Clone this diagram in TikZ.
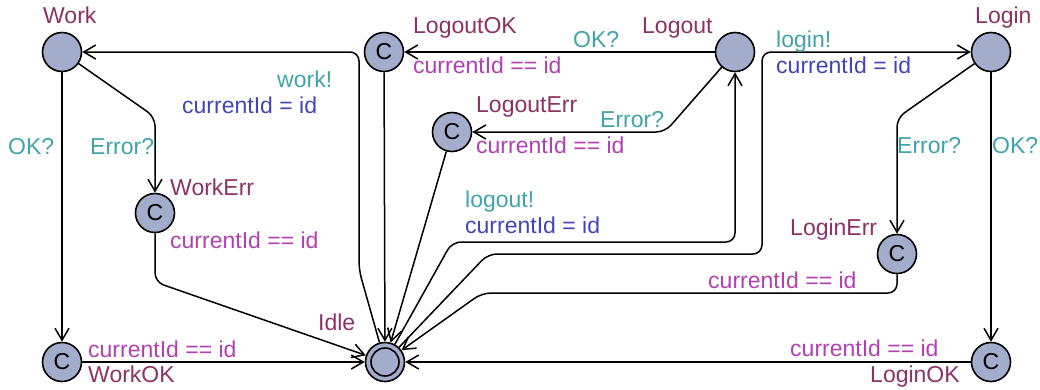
\documentclass[tikz,border=0pt]{standalone}
\usepackage{fontspec}
\setmainfont{Liberation Sans}
\usetikzlibrary{arrows.meta}
\definecolor{locname}{RGB}{140,50,100}
\definecolor{synccol}{RGB}{64,164,170}
\definecolor{updcol}{RGB}{68,68,180}
\definecolor{guardcol}{RGB}{178,64,178}
\definecolor{locfill}{RGB}{164,172,204}
\begin{document}
\begin{tikzpicture}[x=1pt,y=-1pt,
  loc/.style={circle, draw=black, line width=1.6pt, fill=locfill, minimum size=39pt, inner sep=0pt, font=\fontsize{23}{27}\selectfont},
  tr/.style={draw, line width=1.5pt, -{Straight Barb[length=12pt,width=14pt,line width=1.5pt]}, rounded corners=9pt},
  lbl/.style={inner sep=0pt, anchor=base west, font=\fontsize{23}{27}\selectfont},
  nm/.style={lbl, text=locname},
  sy/.style={lbl, text=synccol},
  up/.style={lbl, text=updcol},
  gd/.style={lbl, text=guardcol}]
\useasboundingbox (0,0) rectangle (1040,389);
% locations
\node[loc] (Work) at (62,52) {};
\node[loc] (LogoutOK) at (384,52) {C};
\node[loc] (Logout) at (735,52) {};
\node[loc] (Login) at (991,52) {};
\node[loc] (LogoutErr) at (452,132) {C};
\node[loc] (WorkErr) at (155,213) {C};
\node[loc] (LoginErr) at (897,254) {C};
\node[loc] (WorkOK) at (62,362) {C};
\node[loc] (Idle) at (385,362) {};
\node[loc] (LoginOK) at (991,362) {C};
\draw[line width=1.6pt] (Idle.center) circle (14pt);
% location names
\node[nm] (tWork) at (43,23) {Work};
\node[nm] (tLogoutOK) at (413,33) {LogoutOK};
\node[nm] (tLogout) at (642,33) {Logout};
\node[nm] (tLogin) at (975,23) {Login};
\node[nm] (tLogoutErr) at (476,112) {LogoutErr};
\node[nm] (tWorkErr) at (170,195) {WorkErr};
\node[nm] (tLoginErr) at (790,235) {LoginErr};
\node[nm] (tIdle) at (318,330) {Idle};
\node[nm] (tWorkOK) at (88,382) {WorkOK};
\node[nm] (tLoginOK) at (870,382) {LoginOK};
% transitions
\draw[tr] (Idle) -- (359,270) -- (359,52) -- (Work);
\draw[tr] (Idle) -- (452,242) -- (735,242) -- (Logout);
\draw[tr] (Idle) -- (488,254) -- (762,254) -- (762,52) -- (Login);
\draw[tr] (LoginErr) -- (897,293) -- (482,293) -- (Idle);
\draw[tr] (WorkErr) -- (155,282) -- (Idle);
\draw[tr] (Work) -- (155,117) -- (WorkErr);
\draw[tr] (Login) -- (897,118) -- (LoginErr);
\draw[tr] (Logout) -- (665,132) -- (LogoutErr);
\draw[tr] (LogoutErr) -- (Idle);
\draw[tr] (LogoutOK) -- (Idle);
\draw[tr] (Logout) -- (LogoutOK);
\draw[tr] (Work) -- (WorkOK);
\draw[tr] (WorkOK) -- (Idle);
\draw[tr] (LoginOK) -- (Idle);
\draw[tr] (Login) -- (LoginOK);
% labels
\node[sy] (sWork) at (277,87) {work!};
\node[up] (uWork) at (182,113) {currentId = id};
\node[sy] (sWorkOK) at (8,154) {OK?};
\node[sy] (sWorkErr) at (90,154) {Error?};
\node[gd] (gWorkErr) at (170,248) {currentId == id};
\node[gd] (gWorkOK) at (88,357) {currentId == id};
\node[sy] (sLogoutOK) at (573,47) {OK?};
\node[gd] (gLogoutOK) at (413,73) {currentId == id};
\node[sy] (sLogoutErr) at (600,127) {Error?};
\node[gd] (gLogoutErr) at (476,153) {currentId == id};
\node[sy] (sLogout) at (465,207) {logout!};
\node[up] (uLogout) at (465,233) {currentId = id};
\node[sy] (sLogin) at (776,47) {login!};
\node[up] (uLogin) at (776,73) {currentId = id};
\node[sy] (sLoginErr) at (897,153) {Error?};
\node[sy] (sLoginOK) at (992,153) {OK?};
\node[gd] (gLoginErr) at (708,288) {currentId == id};
\node[gd] (gLoginOK) at (790,356) {currentId == id};
\end{tikzpicture}
\end{document}
